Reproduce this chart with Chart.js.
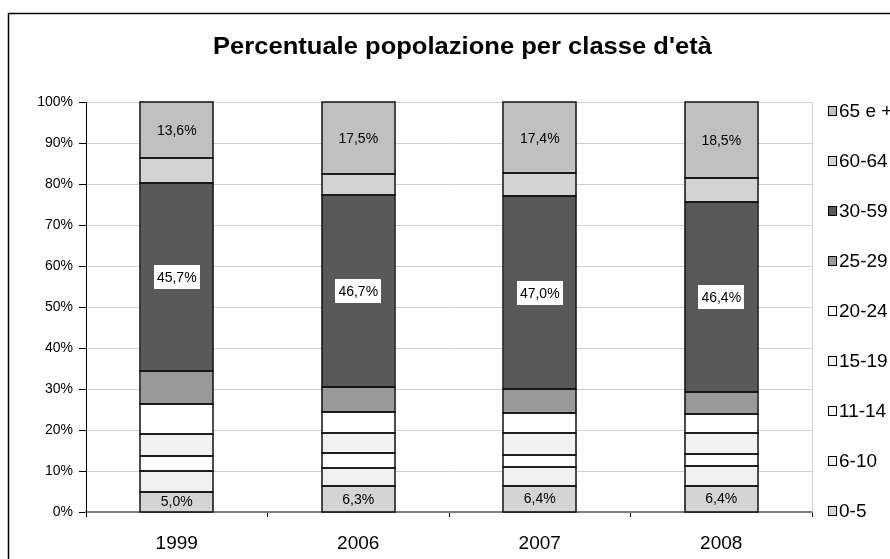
<!DOCTYPE html>
<html>
<head>
<meta charset="utf-8">
<script src="https://cdn.jsdelivr.net/npm/chart.js@4.4.1/dist/chart.umd.min.js"></script>
<style>
  html, body { margin: 0; padding: 0; background: #fff; overflow: hidden; }
  #wrap { width: 890px; height: 559px; position: relative; }
</style>
</head>
<body>
<div id="wrap"><canvas id="chart" width="890" height="559"></canvas></div>
<script>
// Anni e classi d'età
const years = ['1999', '2006', '2007', '2008'];
const ageClasses = ['0-5', '6-10', '11-14', '15-19', '20-24', '25-29', '30-59', '60-64', '65 e +'];

// Percentuali per classe (stimate dal grafico)
const age0_5   = [5.0, 6.3, 6.4, 6.4];
const age6_10  = [5.1, 4.5, 4.5, 4.7];
const age11_14 = [3.6, 3.5, 3.0, 3.0];
const age15_19 = [5.3, 5.0, 5.3, 5.1];
const age20_24 = [7.3, 5.1, 4.9, 4.8];
const age25_29 = [8.2, 6.1, 5.9, 5.3];
const age30_59 = [45.7, 46.7, 47.0, 46.4];
const age60_64 = [6.2, 5.3, 5.6, 5.8];
const age65    = [13.6, 17.5, 17.4, 18.5];

const yTicks = [0, 10, 20, 30, 40, 50, 60, 70, 80, 90, 100];

const seriesValues = [age0_5, age6_10, age11_14, age15_19, age20_24, age25_29, age30_59, age60_64, age65];
const fillColors = ['#d4d4d4', '#f0f0f0', '#fcfcfc', '#f2f2f2', '#ffffff', '#999999', '#595959', '#d3d3d3', '#c0c0c0'];
// which segments show their value, and whether with a white box
const showLabel = [true, false, false, false, false, false, true, false, true];
const boxedLabel = [false, false, false, false, false, false, true, false, false];

const FONT = '"Liberation Sans", Arial, sans-serif';

const fmt = v => v.toFixed(1).replace('.', ',') + '%';

// White background + outer frame + title
const framePlugin = {
    id: 'frame',
    beforeDraw(chart) {
        const ctx = chart.ctx;
        ctx.save();
        ctx.fillStyle = '#fff';
        ctx.fillRect(0, 0, chart.width, chart.height);
        ctx.strokeStyle = '#000';
        ctx.lineWidth = 1.5;
        ctx.strokeRect(8.5, 13.5, 1000, 1000);
        // title, a bit condensed like the original
        const title = "Percentuale popolazione per classe d'età";
        ctx.font = 'bold 23px ' + FONT;
        const w = ctx.measureText(title).width;
        ctx.translate(462.5, 54);
        ctx.scale(499 / w, 1);
        ctx.fillStyle = '#000';
        ctx.textAlign = 'center';
        ctx.textBaseline = 'alphabetic';
        ctx.fillText(title, 0, 0);
        ctx.restore();
    },
    beforeDatasetsDraw(chart) {
        // right border of the plot area
        const { ctx, chartArea } = chart;
        ctx.save();
        ctx.strokeStyle = '#d0d0d0';
        ctx.lineWidth = 1;
        ctx.beginPath();
        ctx.moveTo(chartArea.right + 0.5, chartArea.top);
        ctx.lineTo(chartArea.right + 0.5, chartArea.bottom);
        ctx.stroke();
        ctx.restore();
    }
};

// Outlines + value labels on segments
const labelPlugin = {
    id: 'segLabels',
    afterDatasetsDraw(chart) {
        const ctx = chart.ctx;
        ctx.save();
        ctx.strokeStyle = '#111';
        ctx.lineWidth = 1.5;
        chart.data.datasets.forEach((ds, i) => {
            chart.getDatasetMeta(i).data.forEach(bar => {
                const x0 = Math.round(bar.x - bar.width / 2);
                const x1 = Math.round(bar.x + bar.width / 2);
                const y0 = Math.round(bar.y);
                const y1 = Math.round(bar.base);
                ctx.strokeRect(x0, y0, x1 - x0, y1 - y0);
            });
        });
        ctx.font = '14px ' + FONT;
        ctx.textAlign = 'center';
        ctx.textBaseline = 'middle';
        chart.data.datasets.forEach((ds, i) => {
            if (!showLabel[i]) return;
            const meta = chart.getDatasetMeta(i);
            meta.data.forEach((bar, j) => {
                const cy = (bar.y + bar.base) / 2;
                const txt = fmt(ds.data[j]);
                if (boxedLabel[i]) {
                    const w = ctx.measureText(txt).width + 6;
                    ctx.fillStyle = '#fff';
                    ctx.fillRect(Math.round(bar.x - w / 2), Math.round(cy - 12), Math.round(w), 24);
                }
                ctx.fillStyle = '#000';
                ctx.fillText(txt, bar.x, cy + 1);
            });
        });
        ctx.restore();
    }
};

// Legend on the right, evenly spread along the plot height
const legendPlugin = {
    id: 'sideLegend',
    afterDraw(chart) {
        const { ctx, chartArea } = chart;
        const n = ageClasses.length;
        const top = chartArea.top + 9;
        const bottom = chartArea.bottom - 1;
        const step = (bottom - top) / (n - 1);
        ctx.save();
        ctx.font = '19px ' + FONT;
        ctx.textAlign = 'left';
        ctx.textBaseline = 'middle';
        for (let k = 0; k < n; k++) {
            const i = n - 1 - k;
            const y = top + k * step;
            ctx.fillStyle = fillColors[i];
            ctx.fillRect(828.5, Math.round(y) - 4.5, 8, 9);
            ctx.strokeStyle = '#000';
            ctx.lineWidth = 1;
            ctx.strokeRect(828.5, Math.round(y) - 4.5, 8, 9);
            ctx.fillStyle = '#000';
            ctx.fillText(ageClasses[i], 839, y + 1);
        }
        ctx.restore();
    }
};

const datasets = ageClasses.map((name, i) => ({
    label: name,
    data: seriesValues[i],
    backgroundColor: fillColors[i],
    borderWidth: 0,
    categoryPercentage: 1.0,
    barPercentage: 0.4
}));

new Chart(document.getElementById('chart'), {
    type: 'bar',
    data: { labels: years, datasets: datasets },
    options: {
        responsive: false,
        animation: false,
        layout: { padding: { left: 0, right: 78, top: 102, bottom: 0 } },
        plugins: {
            legend: { display: false },
            tooltip: { enabled: false },
            title: { display: false }
        },
        scales: {
            x: {
                stacked: true,
                grid: { drawOnChartArea: false, drawTicks: true, tickLength: 5, tickColor: '#000', offset: true },
                border: { color: '#808080', width: 2 },
                ticks: { color: '#000', font: { family: FONT, size: 19 }, padding: 15 },
                afterFit(scale) { scale.height = 47; }
            },
            y: {
                stacked: true,
                min: 0,
                max: 100,
                afterBuildTicks(scale) { scale.ticks = yTicks.map(v => ({ value: v })); },
                grid: { color: '#d0d0d0', tickColor: '#000', tickLength: 7 },
                border: { color: '#000', width: 1 },
                ticks: { color: '#000', font: { family: FONT, size: 14 }, padding: 6, callback: v => v + '%' },
                afterFit(scale) { scale.width = 86; }
            }
        }
    },
    plugins: [framePlugin, labelPlugin, legendPlugin]
});
</script>
</body>
</html>
